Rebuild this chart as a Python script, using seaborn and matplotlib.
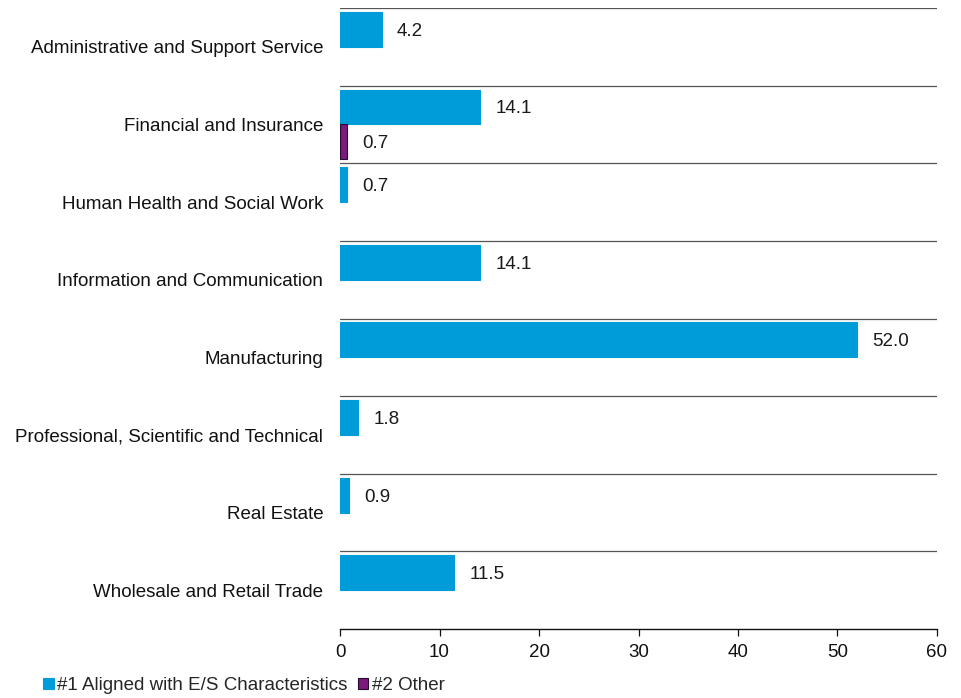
import matplotlib
matplotlib.use("Agg")
import matplotlib.pyplot as plt
import seaborn as sns
import pandas as pd
from matplotlib.patches import Patch

categories = [
    "Administrative and Support Service",
    "Financial and Insurance",
    "Human Health and Social Work",
    "Information and Communication",
    "Manufacturing",
    "Professional, Scientific and Technical",
    "Real Estate",
    "Wholesale and Retail Trade",
]
series_names = ["#1 Aligned with E/S Characteristics", "#2 Other"]
aligned = [4.2, 14.1, 0.7, 14.1, 52.0, 1.8, 0.9, 11.5]
other = [None, 0.7, None, None, None, None, None, None]
x_ticks = [0, 10, 20, 30, 40, 50, 60]

colors = {series_names[0]: "#009BD9", series_names[1]: "#7A1A7E"}
edges = {series_names[0]: "#009BD9", series_names[1]: "#2a0a2c"}

rows = []
for cat, a, o in zip(categories, aligned, other):
    if a is not None:
        rows.append({"sector": cat, "series": series_names[0], "value": a})
    if o is not None:
        rows.append({"sector": cat, "series": series_names[1], "value": o})
df = pd.DataFrame(rows)

sns.set_theme(style="white")
plt.rcParams["font.family"] = ["Liberation Sans", "DejaVu Sans"]

fig = plt.figure(figsize=(9.62, 6.98), dpi=100)
ax = fig.add_axes([340 / 962, 1 - 629 / 698, (937 - 340) / 962, (629 - 8) / 698])

sns.barplot(
    data=df, y="sector", x="value", hue="series",
    order=categories, hue_order=series_names,
    palette=colors, orient="h", width=0.9, dodge=True,
    saturation=1, legend=False, ax=ax,
)

for container, name in zip(ax.containers, series_names):
    for bar in container:
        bar.set_edgecolor(edges[name])
        bar.set_linewidth(0.8)
    labels = ax.bar_label(container, fmt="%.1f", padding=11, fontsize=13.5, color="#1a1a1a")
    for t in labels:
        t.set_verticalalignment("center_baseline")

ax.set_xlim(0, 60)
ax.set_ylim(len(categories) - 0.5, -0.5)
ax.set_xticks(x_ticks)
ax.set_xlabel("")
ax.set_ylabel("")

# band separators above each sector
for i in range(len(categories)):
    ax.axhline(i - 0.5, color="#555555", linewidth=0.9, zorder=0.5)

for side in ["left", "right", "top"]:
    ax.spines[side].set_visible(False)
ax.spines["bottom"].set_color("#111111")
ax.spines["bottom"].set_linewidth(1.0)
ax.tick_params(axis="x", bottom=True, length=5, width=0.9, color="#111111",
               labelsize=13.5, labelcolor="#111111", pad=6)
ax.tick_params(axis="y", left=False, length=0, labelsize=13.5,
               labelcolor="#111111", pad=12)

handles = [Patch(facecolor=colors[n], edgecolor=edges[n], linewidth=0.8) for n in series_names]
fig.legend(
    handles, series_names, loc="lower left", bbox_to_anchor=(32 / 962, -0.011),
    ncol=2, frameon=False, fontsize=13.5, handlelength=0.55, handleheight=0.55,
    handletextpad=0.2, columnspacing=0.55, borderaxespad=0.2,
)

fig.savefig("out.png", dpi=100)
